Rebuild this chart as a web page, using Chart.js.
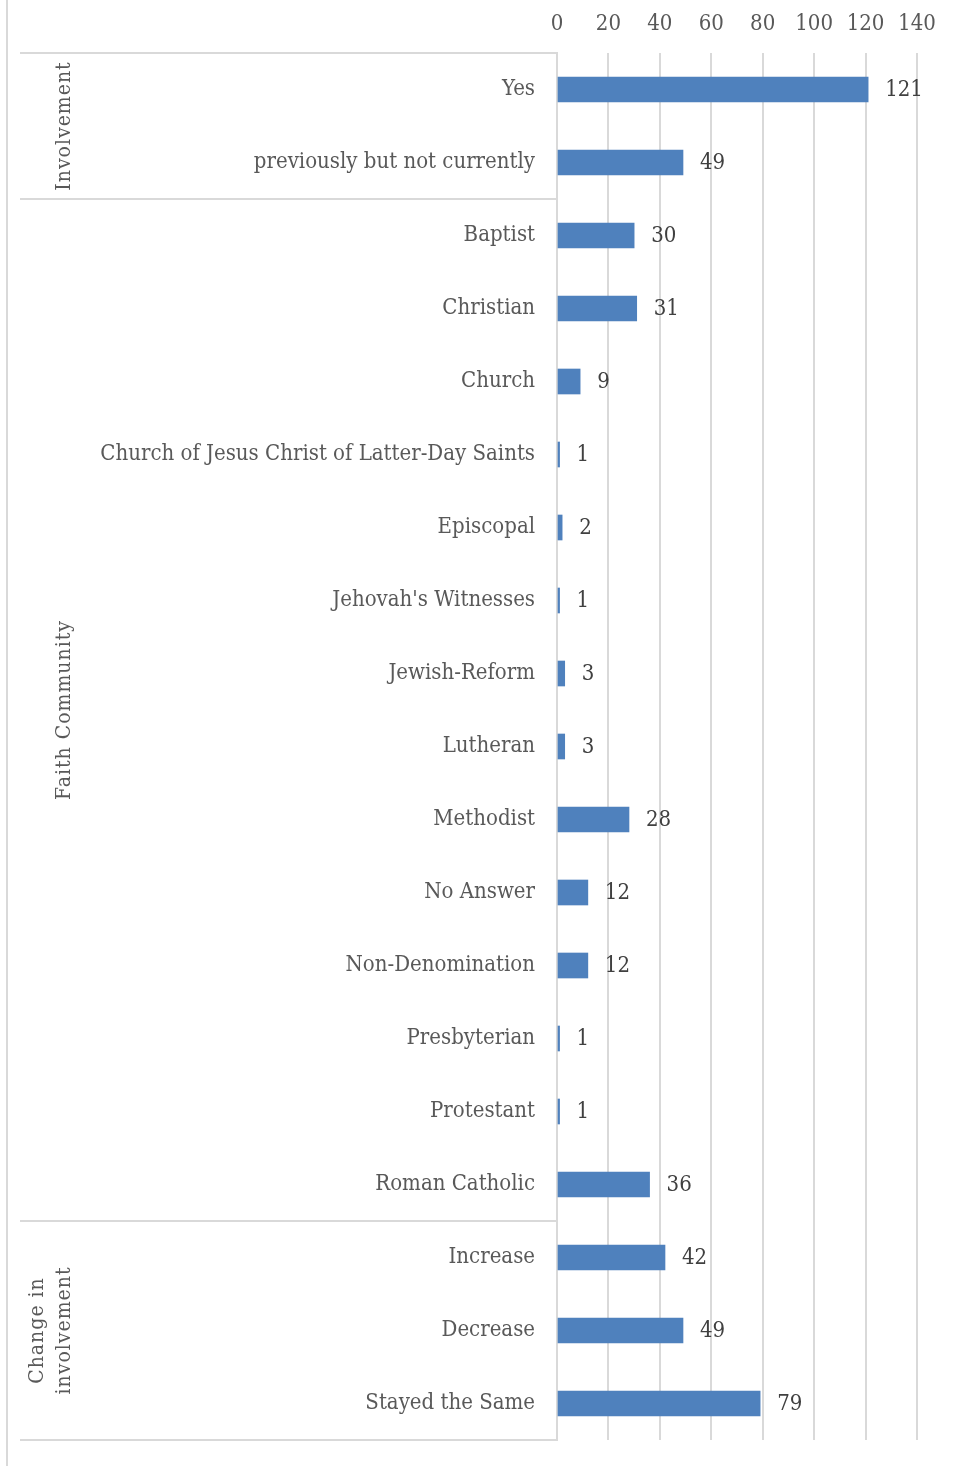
<!DOCTYPE html>
<html lang="en">
<head>
  <meta charset="UTF-8">
  <title>Faith Involvement</title>
  <script src="https://cdn.jsdelivr.net/npm/chart.js"></script>
  <style>
    html, body { margin: 0; padding: 0; background: #fff; }
    #wrap { width: 960px; height: 1466px; position: relative; }
  </style>
</head>
<body>
  <div id="wrap"><canvas id="myChart"></canvas></div>
  <script>
    // Categories, counts and the groups they belong to
    const categories = [
      "Yes", "previously but not currently",
      "Baptist", "Christian", "Church", "Church of Jesus Christ of Latter-Day Saints",
      "Episcopal", "Jehovah's Witnesses", "Jewish-Reform", "Lutheran", "Methodist",
      "No Answer", "Non-Denomination", "Presbyterian", "Protestant", "Roman Catholic",
      "Increase", "Decrease", "Stayed the Same"
    ];
    const counts = [121, 49, 30, 31, 9, 1, 2, 1, 3, 3, 28, 12, 12, 1, 1, 36, 42, 49, 79];
    const groupNames = [["Involvement"], ["Faith Community"], ["Change in", "involvement"]];
    const groupSizes = [2, 14, 3];
    const xTicks = [0, 20, 40, 60, 80, 100, 120, 140];

    const FONT = "'DejaVu Serif Condensed', 'Liberation Serif', serif";
    const PLOT_LEFT = 557;
    const PLOT_TOP = 53;

    // group boxes, separator lines and value labels
    const groupPlugin = {
      id: 'groups',
      afterDatasetsDraw(chart) {
        const ctx = chart.ctx;
        const area = chart.chartArea;
        const band = (area.bottom - area.top) / categories.length;
        ctx.save();

        // outer left border
        ctx.strokeStyle = '#d9d9d9';
        ctx.lineWidth = 2;
        ctx.beginPath();
        ctx.moveTo(7, 0);
        ctx.lineTo(7, chart.height);
        ctx.stroke();

        // separators between groups
        let idx = 0;
        const bounds = [area.top];
        groupSizes.forEach(n => { idx += n; bounds.push(area.top + idx * band); });
        ctx.beginPath();
        bounds.forEach(b => {
          ctx.moveTo(20, b);
          ctx.lineTo(area.left, b);
        });
        ctx.stroke();

        // rotated group names
        ctx.fillStyle = '#595959';
        ctx.font = '21px ' + FONT;
        ctx.textAlign = 'center';
        ctx.textBaseline = 'middle';
        if ('letterSpacing' in ctx) ctx.letterSpacing = '1px';
        groupNames.forEach((lines, g) => {
          const cy = (bounds[g] + bounds[g + 1]) / 2;
          const lh = 27;
          const baseX = 65 - (lines.length - 1) * lh;
          lines.forEach((txt, i) => {
            ctx.save();
            ctx.translate(baseX + i * lh, cy);
            ctx.rotate(-Math.PI / 2);
            ctx.fillText(txt, 0, 0);
            ctx.restore();
          });
        });
        if ('letterSpacing' in ctx) ctx.letterSpacing = '0px';

        // value labels next to bars
        ctx.fillStyle = '#404040';
        ctx.font = '22px ' + FONT;
        ctx.textAlign = 'left';
        const meta = chart.getDatasetMeta(0);
        meta.data.forEach((bar, i) => {
          ctx.fillText(String(counts[i]), bar.x + 17, bar.y + 1);
        });
        ctx.restore();
      }
    };

    const ctx = document.getElementById('myChart').getContext('2d');
    new Chart(ctx, {
      type: 'bar',
      data: {
        labels: categories,
        datasets: [{
          data: counts,
          backgroundColor: '#4f81bd',
          borderColor: '#4f81bd',
          borderWidth: 0,
          barThickness: 25
        }]
      },
      options: {
        indexAxis: 'y',
        responsive: true,
        maintainAspectRatio: false,
        animation: false,
        layout: { padding: { left: 0, right: 43, top: 0, bottom: 26 } },
        plugins: {
          legend: { display: false },
          tooltip: { enabled: false }
        },
        scales: {
          x: {
            position: 'top',
            min: 0,
            max: 140,
            afterBuildTicks(scale) {
              scale.ticks = xTicks.map(v => ({ value: v }));
            },
            afterFit(scale) { scale.height = PLOT_TOP; },
            grid: { color: '#d9d9d9', lineWidth: 2, drawTicks: false },
            border: { display: false },
            ticks: {
              color: '#595959',
              padding: 16,
              font: { family: FONT, size: 22 }
            }
          },
          y: {
            afterFit(scale) {
              scale.width = PLOT_LEFT;
              scale.paddingTop = 0;
              scale.paddingBottom = 0;
            },
            grid: { display: false, drawTicks: false },
            border: { display: true, color: '#d9d9d9', width: 2 },
            ticks: {
              color: '#595959',
              padding: 22,
              autoSkip: false,
              font: { family: FONT, size: 22 }
            }
          }
        }
      },
      plugins: [groupPlugin]
    });
  </script>
</body>
</html>
